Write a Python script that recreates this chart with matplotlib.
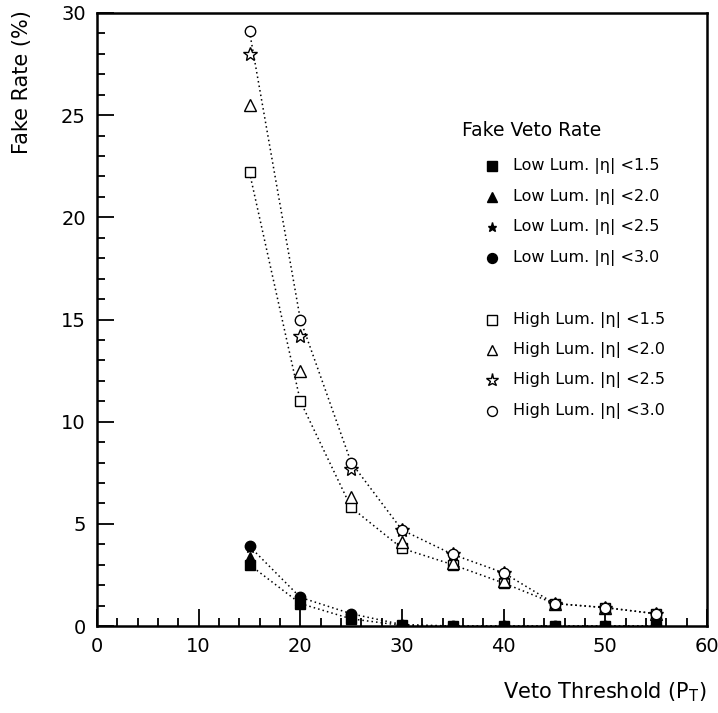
import matplotlib
matplotlib.use("Agg")
import matplotlib.pyplot as plt
from matplotlib.ticker import MultipleLocator

thresholds = [15, 20, 25, 30, 35, 40, 45, 50, 55]

low_15 = [3.0, 1.1, 0.35, 0.03, 0.0, 0.0, 0.0, 0.0, 0.0]
low_20 = [3.4, 1.25, 0.45, 0.05, 0.0, 0.0, 0.0, 0.0, 0.0]
low_25 = [3.8, 1.35, 0.55, 0.06, 0.0, 0.0, 0.0, 0.0, 0.0]
low_30 = [3.9, 1.4, 0.6, 0.07, 0.0, 0.0, 0.0, 0.0, 0.0]

high_15 = [22.2, 11.0, 5.8, 3.8, 3.0, 2.1, 1.1, 0.9, 0.6]
high_20 = [25.5, 12.5, 6.3, 4.1, 3.1, 2.2, 1.1, 0.9, 0.6]
high_25 = [28.0, 14.2, 7.7, 4.7, 3.5, 2.6, 1.1, 0.9, 0.6]
high_30 = [29.1, 15.0, 8.0, 4.7, 3.5, 2.6, 1.1, 0.9, 0.6]

legend_title = "Fake Veto Rate"
legend_labels = ["Low Lum. |η| <1.5", "Low Lum. |η| <2.0",
                 "Low Lum. |η| <2.5", "Low Lum. |η| <3.0",
                 "High Lum. |η| <1.5", "High Lum. |η| <2.0",
                 "High Lum. |η| <2.5", "High Lum. |η| <3.0"]

W, H = 718, 713
fig = plt.figure(figsize=(W / 100, H / 100), dpi=100)
ax = fig.add_axes([97 / W, 1 - 626 / H, 610 / W, 613 / H])

# dotted connecting lines (only for |eta|<1.5 and |eta|<3.0 series)
for ys in (low_15, low_30, high_15, high_30):
    ax.plot(thresholds, ys, linestyle=(0, (1, 2)), color="black", lw=1.1, zorder=2)

series = [
    (low_15, "s", True, 7),
    (low_20, "^", True, 7.5),
    (low_25, "*", True, 7),
    (low_30, "o", True, 7.5),
    (high_15, "s", False, 7.5),
    (high_20, "^", False, 8),
    (high_25, "*", False, 10),
    (high_30, "o", False, 7.5),
]
for ys, m, filled, ms in series:
    ax.plot(thresholds, ys, linestyle="none", marker=m, markersize=ms,
            markerfacecolor="black" if filled else "white",
            markeredgecolor="black", markeredgewidth=1.0, zorder=3)

ax.set_xlim(0, 60)
ax.set_ylim(0, 30)
ax.xaxis.set_major_locator(MultipleLocator(10))
ax.xaxis.set_minor_locator(MultipleLocator(2))
ax.yaxis.set_major_locator(MultipleLocator(5))
ax.yaxis.set_minor_locator(MultipleLocator(1))
ax.tick_params(which="both", direction="in", top=False, right=False, width=1.3,
               labelsize=14, pad=8)
ax.tick_params(which="major", length=12)
ax.tick_params(which="minor", length=6)
for s in ax.spines.values():
    s.set_linewidth(1.8)

fig.text(22 / W, 1 - 10 / H, "Fake Rate (%)", rotation=90, ha="center", va="top",
         fontsize=15)
fig.text(707 / W, 1 - 692 / H, r"Veto Threshold (P$_\mathrm{T}$)", ha="right",
         va="center", fontsize=15)

# legend drawn manually
fig.text(462 / W, 1 - 130 / H, legend_title, ha="left", va="center", fontsize=13.5)
rows = [166, 197, 227, 258, 320, 350, 380, 411]
for (ys, m, filled, ms), lab, ry in zip(series, legend_labels, rows):
    fig.lines.append(matplotlib.lines.Line2D(
        [492 / W], [1 - ry / H], transform=fig.transFigure, linestyle="none",
        marker=m, markersize=ms * 0.95,
        markerfacecolor="black" if filled else "white",
        markeredgecolor="black", markeredgewidth=1.0))
    fig.text(513 / W, 1 - ry / H, lab, ha="left", va="center", fontsize=11.5)

fig.savefig("out.png", dpi=100, facecolor="white")
